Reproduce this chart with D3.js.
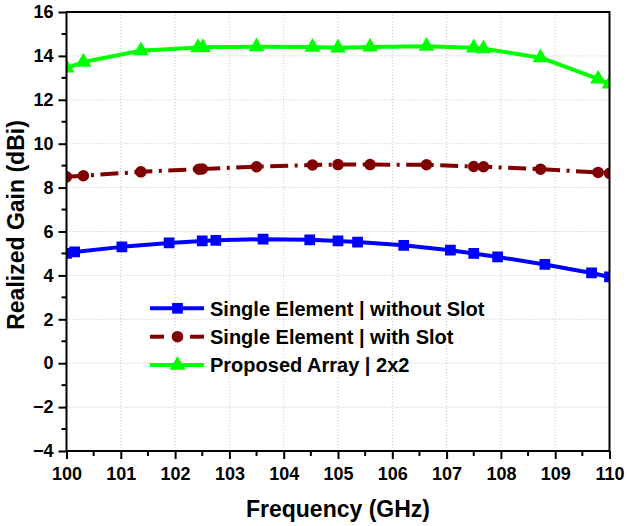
<!DOCTYPE html>
<html>
<head>
<meta charset="utf-8">
<script src="https://cdn.jsdelivr.net/npm/d3@7"></script>
<style>
  html, body { margin: 0; padding: 0; background: #fff; }
  svg { display: block; font-family: "Liberation Sans", Arial, sans-serif; }
</style>
</head>
<body>
<svg id="chart" width="629" height="526"></svg>
<script>
// ---- data ----
const seriesNames = ["Single Element | without Slot", "Single Element | with Slot", "Proposed Array | 2x2"];

const freqBlue = [100, 100.15, 101.02, 101.89, 102.5, 102.75, 103.62, 104.48, 105.0, 105.36, 106.21, 107.07, 107.5, 107.94, 108.81, 109.67, 110];
const gainBlue = [5.0, 5.07, 5.3, 5.48, 5.57, 5.6, 5.65, 5.62, 5.57, 5.52, 5.37, 5.15, 5.0, 4.84, 4.5, 4.11, 3.93];

const freqRed = [100, 100.31, 101.37, 102.44, 102.5, 103.5, 104.53, 105.0, 105.59, 106.63, 107.5, 107.68, 108.73, 109.79, 110];
const gainRed = [8.49, 8.54, 8.72, 8.84, 8.85, 8.95, 9.03, 9.05, 9.05, 9.04, 8.96, 8.95, 8.84, 8.69, 8.65];

const freqGreen = [100, 100.31, 101.37, 102.42, 102.51, 103.5, 104.53, 105.0, 105.59, 106.63, 107.5, 107.68, 108.73, 109.79, 110];
const gainGreen = [13.45, 13.72, 14.24, 14.38, 14.39, 14.42, 14.4, 14.37, 14.41, 14.44, 14.37, 14.33, 13.92, 12.95, 12.72];

const xTicks = [100, 101, 102, 103, 104, 105, 106, 107, 108, 109, 110];
const yTicks = [-4, -2, 0, 2, 4, 6, 8, 10, 12, 14, 16];
const xMinorTicks = [100.5, 101.5, 102.5, 103.5, 104.5, 105.5, 106.5, 107.5, 108.5, 109.5];
const yMinorTicks = [-3, -1, 1, 3, 5, 7, 9, 11, 13, 15];

// ---- layout ----
const svg = d3.select("#chart");
const L = 66.5, R = 609.5, T = 12, B = 451;
const x = d3.scaleLinear().domain([100, 110]).range([L, R]);
const y = d3.scaleLinear().domain([-4, 16]).range([B, T]);

// clip
svg.append("defs").append("clipPath").attr("id", "clip")
  .append("rect").attr("x", L).attr("y", T).attr("width", R - L).attr("height", B - T);

// grid
const grid = svg.append("g");
grid.selectAll(".gx").data(xTicks.slice(1, -1)).enter().append("line")
  .attr("x1", d => x(d)).attr("x2", d => x(d)).attr("y1", T).attr("y2", B)
  .attr("stroke", "#c4c4c4").attr("stroke-width", 1).attr("stroke-dasharray", "1,2");
grid.selectAll(".gy").data(yTicks.slice(1, -1)).enter().append("line")
  .attr("y1", d => y(d)).attr("y2", d => y(d)).attr("x1", L).attr("x2", R)
  .attr("stroke", "#c4c4c4").attr("stroke-width", 1).attr("stroke-dasharray", "1,2");

// series
const series = [
  { name: seriesNames[0], fx: freqBlue, gy: gainBlue, color: "#0000ff", marker: "square", dash: null },
  { name: seriesNames[1], fx: freqRed, gy: gainRed, color: "#800000", marker: "circle", dash: "18,6.5,3,6.5" },
  { name: seriesNames[2], fx: freqGreen, gy: gainGreen, color: "#00ff00", marker: "triangle", dash: null }
];

const symbolFor = m => m === "square" ? d3.symbolSquare : (m === "circle" ? d3.symbolCircle : d3.symbolTriangle);
const sizeFor = m => m === "square" ? 115 : (m === "circle" ? 105 : 110);

const plot = svg.append("g").attr("clip-path", "url(#clip)");
const line = d3.line().x(d => x(d[0])).y(d => y(d[1]));
series.forEach(s => {
  const pts = s.fx.map((f, i) => [f, s.gy[i]]);
  plot.append("path").datum(pts)
    .attr("d", line).attr("fill", "none")
    .attr("stroke", s.color).attr("stroke-width", 4)
    .attr("stroke-linejoin", "round")
    .attr("stroke-dasharray", s.dash);
  plot.selectAll(null).data(pts).enter().append("path")
    .attr("d", d3.symbol().type(symbolFor(s.marker)).size(sizeFor(s.marker)))
    .attr("transform", d => `translate(${x(d[0])},${y(d[1])})`)
    .attr("fill", s.color);
});

// axes
const axisG = svg.append("g");
const xAxis = axisG.append("g").attr("transform", `translate(0,${B})`)
  .call(d3.axisBottom(x).tickValues(xTicks).tickFormat(d3.format("d")).tickSize(8).tickPadding(8));
const yAxis = axisG.append("g").attr("transform", `translate(${L},0)`)
  .call(d3.axisLeft(y).tickValues(yTicks).tickFormat(d => d < 0 ? "\u2212" + Math.abs(d) : d).tickSize(8).tickPadding(5));
[xAxis, yAxis].forEach(g => {
  g.select(".domain").remove();
  g.selectAll("line").attr("stroke", "#000").attr("stroke-width", 2);
  g.selectAll("text").attr("fill", "#000").attr("font-size", 18).attr("font-weight", "bold")
    .attr("font-family", "'Liberation Sans', Arial, sans-serif");
});
// minor ticks
axisG.selectAll(".mx").data(xMinorTicks).enter().append("line")
  .attr("x1", d => x(d)).attr("x2", d => x(d)).attr("y1", B).attr("y2", B + 5)
  .attr("stroke", "#000").attr("stroke-width", 2);
axisG.selectAll(".my").data(yMinorTicks).enter().append("line")
  .attr("y1", d => y(d)).attr("y2", d => y(d)).attr("x1", L).attr("x2", L - 5)
  .attr("stroke", "#000").attr("stroke-width", 2);
// frame
axisG.append("rect").attr("x", L).attr("y", T).attr("width", R - L).attr("height", B - T)
  .attr("fill", "none").attr("stroke", "#000").attr("stroke-width", 2);

// axis titles
svg.append("text").attr("x", (L + R) / 2).attr("y", 517)
  .attr("text-anchor", "middle").attr("font-size", 23).attr("font-weight", "bold")
  .text("Frequency (GHz)");
svg.append("text").attr("transform", `translate(24,225) rotate(-90)`)
  .attr("text-anchor", "middle").attr("font-size", 23).attr("font-weight", "bold")
  .text("Realized Gain (dBi)");

// legend
const legend = svg.append("g");
const legY0 = 308.3, legDy = 28.4;
series.forEach((s, i) => {
  const ly = legY0 + i * legDy;
  const g = legend.append("g");
  if (s.dash) {
    g.append("line").attr("x1", 150).attr("x2", 164).attr("y1", ly).attr("y2", ly)
      .attr("stroke", s.color).attr("stroke-width", 4);
    g.append("line").attr("x1", 190).attr("x2", 204).attr("y1", ly).attr("y2", ly)
      .attr("stroke", s.color).attr("stroke-width", 4);
  } else {
    g.append("line").attr("x1", 150).attr("x2", 204).attr("y1", ly).attr("y2", ly)
      .attr("stroke", s.color).attr("stroke-width", 4);
  }
  g.append("path").attr("d", d3.symbol().type(symbolFor(s.marker)).size(sizeFor(s.marker)))
    .attr("transform", `translate(177.5,${ly})`).attr("fill", s.color);
  g.append("text").attr("x", 210).attr("y", ly).attr("dy", "0.36em")
    .attr("font-size", 20).attr("font-weight", "bold").attr("fill", "#000")
    .text(s.name);
});
</script>
</body>
</html>
